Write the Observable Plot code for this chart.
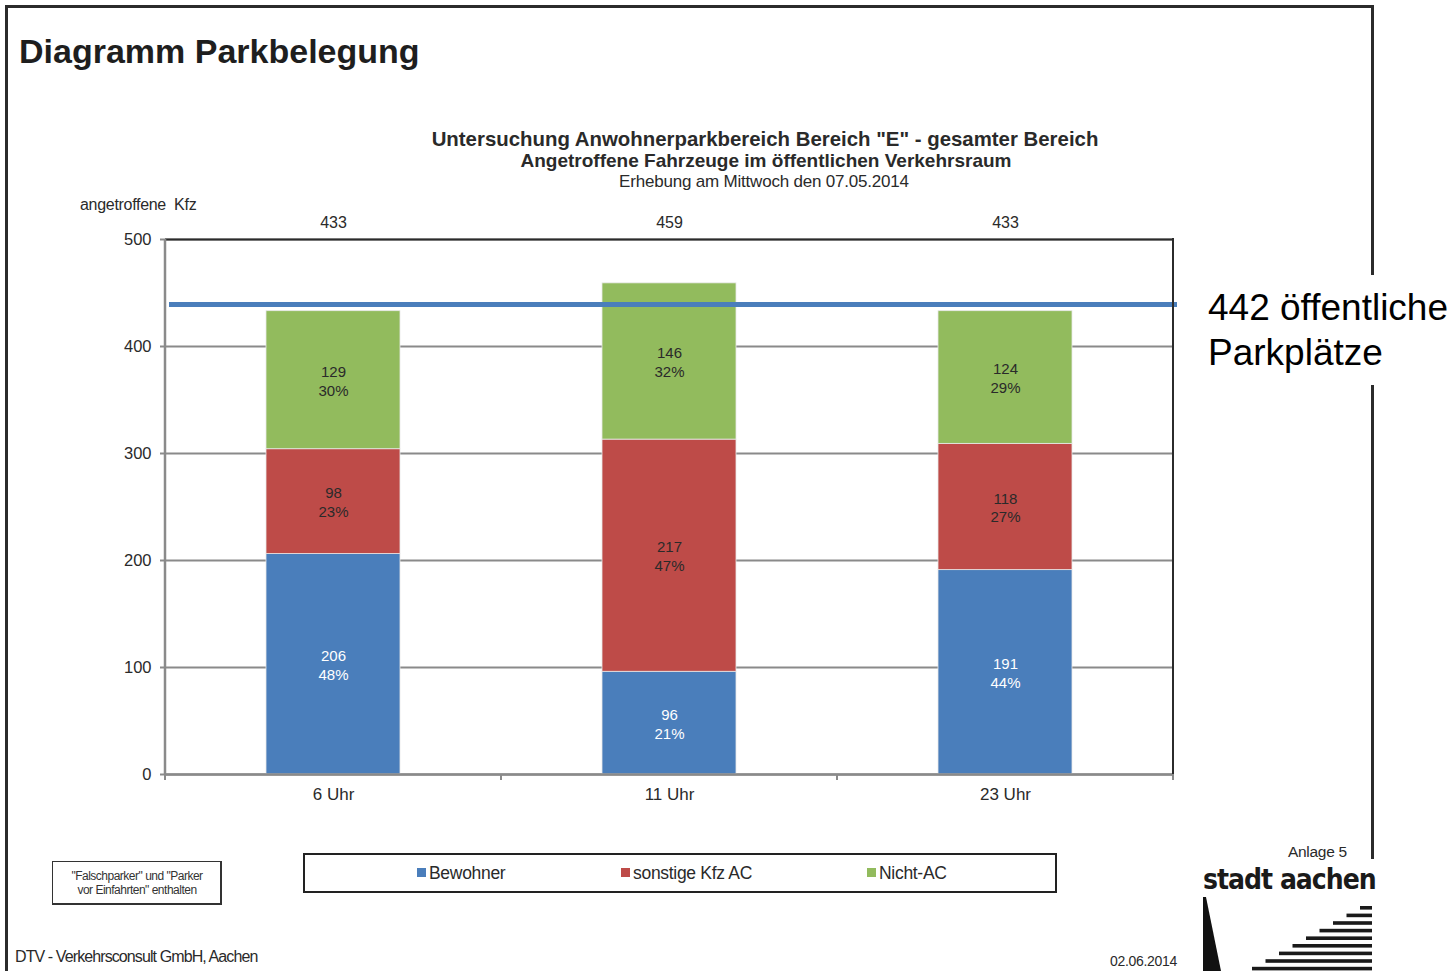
<!DOCTYPE html>
<html>
<head>
<meta charset="utf-8">
<script src="https://cdn.jsdelivr.net/npm/d3@7"></script>
<script src="https://cdn.jsdelivr.net/npm/@observablehq/plot@0.6"></script>
<style>
  html, body { margin: 0; padding: 0; background: #fff; }
  #page { position: relative; width: 1452px; height: 971px; overflow: hidden; font-family: "Liberation Sans", Arial, sans-serif; color: #222; }
  .t { position: absolute; white-space: nowrap; line-height: 1; }
  .c { transform: translateX(-50%); }
  .line { position: absolute; background: #2b2b2b; }
</style>
</head>
<body>
<div id="page">
  <!-- page frame -->
  <div class="line" style="left:5px; top:5px; width:1369px; height:3px;"></div>
  <div class="line" style="left:5px; top:5px; width:3px; height:966px;"></div>
  <div class="line" style="left:1371px; top:5px; width:3px; height:270px;"></div>
  <div class="line" style="left:1371px; top:385px; width:3px; height:474px;"></div>

  <div class="t" style="left:19px; top:34px; font-size:34px; font-weight:bold; color:#1e1e1e;">Diagramm Parkbelegung</div>

  <div class="t c" style="left:765px; top:129px; font-size:20.4px; font-weight:bold; color:#2a2a2a;">Untersuchung Anwohnerparkbereich Bereich "E" - gesamter Bereich</div>
  <div class="t c" style="left:766px; top:151px; font-size:19px; font-weight:bold; color:#2a2a2a;">Angetroffene Fahrzeuge im öffentlichen Verkehrsraum</div>
  <div class="t c" style="left:764px; top:173px; font-size:17px; color:#2a2a2a; letter-spacing:-0.2px;">Erhebung am Mittwoch den 07.05.2014</div>

  <div class="t" style="left:80px; top:197px; font-size:16px; color:#2a2a2a; letter-spacing:-0.3px; word-spacing:4px;">angetroffene Kfz</div>

  <div id="chart" style="position:absolute; left:0; top:200px;"></div>

  <div class="t" style="left:1208px; top:285px; font-size:37px; color:#000; line-height:45px;">442 öffentliche<br>Parkplätze</div>

  <!-- note box -->
  <div style="position:absolute; left:52px; top:861px; width:170px; height:44px; border:1.5px solid #333; border-right-width:2px; border-bottom-width:2px; box-sizing:border-box;"></div>
  <div class="t c" style="left:137px; top:869px; font-size:12px; line-height:14px; text-align:center; color:#333; letter-spacing:-0.5px;">"Falschparker" und "Parker<br>vor Einfahrten" enthalten</div>

  <!-- legend -->
  <div id="legend" style="position:absolute; left:303px; top:853px; width:754px; height:40px; border:2.5px solid #222; box-sizing:border-box;"></div>

  <div class="t" style="left:15px; top:949px; font-size:16px; color:#2a2a2a; letter-spacing:-0.9px;">DTV - Verkehrsconsult GmbH, Aachen</div>
  <div class="t" style="left:1110px; top:954px; font-size:14px; color:#2a2a2a; letter-spacing:-0.3px;">02.06.2014</div>
  <div class="t" style="left:1288px; top:844px; font-size:15.5px; color:#2a2a2a; letter-spacing:-0.3px;">Anlage 5</div>

  <!-- logo (decoration) -->
  <div class="t" style="left:1203px; top:866px; font-family:'DejaVu Sans Condensed','DejaVu Sans',sans-serif; font-weight:bold; font-size:28px; letter-spacing:-1px; color:#1a1a1a;">stadt aachen</div>
  <svg id="logo" style="position:absolute; left:1190px; top:895px;" width="200" height="76"></svg>
</div>

<script>
// ---- data ----
const times = ["6 Uhr", "11 Uhr", "23 Uhr"];
const seriesNames = ["Bewohner", "sonstige Kfz AC", "Nicht-AC"];
const seriesColors = ["#4a7ebb", "#be4b48", "#92bb5d"];
const bewohner = [206, 96, 191];
const sonstige = [98, 217, 118];
const nichtAC = [129, 146, 124];
const pctBewohner = [48, 21, 44];
const pctSonstige = [23, 47, 27];
const pctNichtAC = [30, 32, 29];
const totals = [433, 459, 433];
const capacity = 442;
const yTicks = [0, 100, 200, 300, 400, 500];

const valuesBySeries = [bewohner, sonstige, nichtAC];
const pctsBySeries = [pctBewohner, pctSonstige, pctNichtAC];

const rows = [];
times.forEach((t, i) => {
  seriesNames.forEach((s, j) => {
    rows.push({ time: t, series: s, value: valuesBySeries[j][i], pct: pctsBySeries[j][i] });
  });
});
const totalRows = times.map((t, i) => ({ time: t, total: totals[i] }));

const W = 1200, H = 620;
const plot = Plot.plot({
  width: W,
  height: H,
  marginLeft: 165,
  marginRight: 27,
  marginTop: 39,
  marginBottom: 46,
  style: { fontFamily: "Liberation Sans, Arial, sans-serif", fontSize: "16px", color: "#2a2a2a", background: "transparent" },
  x: { type: "band", domain: times, paddingInner: 0.6, paddingOuter: 0.3, label: null },
  y: { domain: [0, 500], label: null },
  color: { domain: seriesNames, range: seriesColors },
  marks: [
    Plot.ruleY(yTicks, { stroke: "#8a8a8a", strokeWidth: 2 }),
    Plot.barY(rows, { x: "time", y: "value", fill: "series", stroke: "#e8e8e8", strokeWidth: 0.8, inset: 0 }),
    Plot.text(rows, Plot.stackY({
      x: "time", y: "value",
      text: d => `${d.value}\n${d.pct}%`,
      fill: d => d.series === "Bewohner" ? "#ffffff" : "#2a2a2a",
      fontSize: 15, lineHeight: 1.25
    })),
    Plot.ruleY([500], { stroke: "#2b2b2b", strokeWidth: 2 }),
    Plot.ruleY([0], { stroke: "#8a8a8a", strokeWidth: 2.5 }),
    Plot.ruleY([capacity], { stroke: "#4a7ebb", strokeWidth: 5, dx: 4, dy: 3 }),
    Plot.text(totalRows, { x: "time", text: d => String(d.total), frameAnchor: "top", dy: -23, fontSize: 16 }),
    Plot.axisY({ ticks: yTicks, tickSize: 5, tickPadding: 9, stroke: "#8a8a8a", strokeWidth: 2, label: null, fontSize: 16.5 }),
    Plot.axisX({ tickSize: 0, tickPadding: 13, label: null, fontSize: 17 })
  ]
});
document.getElementById("chart").appendChild(plot);

// axis lines & boundary ticks derived from the plot's own scales
const xs = plot.scale("x");
const ys = plot.scale("y");
const svg = d3.select(plot);
const [x0, x1] = xs.range;
const yTop = ys.apply(500), yBot = ys.apply(0);
const g = svg.append("g");
g.append("line").attr("x1", x0).attr("x2", x0).attr("y1", yTop).attr("y2", yBot + 1)
  .attr("stroke", "#8a8a8a").attr("stroke-width", 2.5);
g.append("line").attr("x1", x1).attr("x2", x1).attr("y1", yTop - 1).attr("y2", yBot + 1)
  .attr("stroke", "#2b2b2b").attr("stroke-width", 2);
const bounds = [x0, ...times.map(t => xs.apply(t) + xs.bandwidth / 2 + xs.step / 2)];
bounds.forEach(b => {
  g.append("line").attr("x1", b).attr("x2", b).attr("y1", yBot).attr("y2", yBot + 6)
    .attr("stroke", "#8a8a8a").attr("stroke-width", 2);
});

// legend (HTML, inside the box)
const legend = document.getElementById("legend");
const legendX = [112, 316, 562];
seriesNames.forEach((s, j) => {
  const sw = document.createElement("div");
  sw.style.cssText = `position:absolute; left:${legendX[j]}px; top:13px; width:9px; height:9px; background:${seriesColors[j]};`;
  legend.appendChild(sw);
  const tx = document.createElement("div");
  tx.className = "t";
  tx.style.cssText = `left:${legendX[j] + 12}px; top:10px; font-size:17.5px; color:#2a2a2a; letter-spacing:-0.3px;`;
  tx.textContent = s;
  legend.appendChild(tx);
});

// logo graphic (decoration)
const logo = d3.select("#logo");
logo.append("path").attr("d", "M13,2 L16,2 L31,76 L13,76 Z").attr("fill", "#111");
for (let k = 0; k < 9; k++) {
  const y = 11 + k * 7.6;
  const xl = 170 - k * 13.5;
  logo.append("rect").attr("x", xl).attr("y", y).attr("width", 182 - xl).attr("height", 3.6).attr("fill", "#1a1a1a");
}
</script>
</body>
</html>
